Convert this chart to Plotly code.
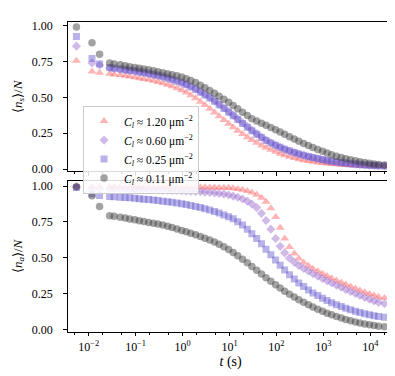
import plotly.graph_objects as go

# time points (s)
t = [0.0055, 0.0118, 0.0171, 0.028, 0.035, 0.047, 0.06, 0.075, 0.096, 0.12,
     0.15, 0.19, 0.24, 0.30, 0.38, 0.48, 0.60, 0.76, 0.96, 1.2,
     1.5, 1.9, 2.4, 3.0, 3.8, 4.8, 6.0, 7.6, 9.6, 12,
     15, 19, 24, 30, 38, 48, 60, 76, 96, 120,
     150, 190, 240, 300, 380, 480, 600, 760, 960, 1200,
     1500, 1900, 2400, 3000, 3800, 4800, 6000, 7600, 9600, 12000,
     15000, 20000]

labels = ["<i>C<sub>l</sub></i> ≈ 1.20 μm<sup>−2</sup>",
          "<i>C<sub>l</sub></i> ≈ 0.60 μm<sup>−2</sup>",
          "<i>C<sub>l</sub></i> ≈ 0.25 μm<sup>−2</sup>",
          "<i>C<sub>l</sub></i> ≈ 0.11 μm<sup>−2</sup>"]

# <n_s>/N
ns_120 = [0.755, 0.68, 0.672, 0.665, 0.66, 0.655, 0.65, 0.645, 0.64, 0.634,
          0.628, 0.622, 0.615, 0.607, 0.598, 0.588, 0.577, 0.564, 0.55, 0.533,
          0.514, 0.493, 0.47, 0.446, 0.42, 0.394, 0.368, 0.342, 0.316, 0.291,
          0.267, 0.244, 0.222, 0.202, 0.183, 0.165, 0.149, 0.134, 0.12, 0.107,
          0.096, 0.086, 0.077, 0.069, 0.062, 0.056, 0.051, 0.046, 0.042, 0.039,
          0.036, 0.033, 0.031, 0.029, 0.027, 0.025, 0.024, 0.023, 0.022, 0.021,
          0.02, 0.02]
ns_060 = [0.857, 0.74, 0.725, 0.705, 0.70, 0.696, 0.692, 0.688, 0.684, 0.679,
          0.674, 0.668, 0.662, 0.655, 0.647, 0.638, 0.628, 0.617, 0.605, 0.592,
          0.577, 0.56, 0.541, 0.521, 0.5, 0.477, 0.453, 0.428, 0.402, 0.376,
          0.35, 0.323, 0.297, 0.271, 0.247, 0.224, 0.203, 0.184, 0.167, 0.152,
          0.138, 0.126, 0.115, 0.105, 0.096, 0.087, 0.079, 0.072, 0.065, 0.059,
          0.054, 0.049, 0.045, 0.041, 0.037, 0.034, 0.031, 0.028, 0.026, 0.024,
          0.022, 0.021]
ns_025 = [0.925, 0.77, 0.733, 0.708, 0.703, 0.698, 0.693, 0.688, 0.683, 0.677,
          0.671, 0.665, 0.658, 0.65, 0.642, 0.633, 0.623, 0.612, 0.60, 0.587,
          0.572, 0.555, 0.536, 0.516, 0.495, 0.472, 0.448, 0.423, 0.397, 0.371,
          0.345, 0.318, 0.292, 0.267, 0.243, 0.221, 0.20, 0.182, 0.166, 0.152,
          0.139, 0.127, 0.116, 0.106, 0.097, 0.088, 0.08, 0.073, 0.066, 0.06,
          0.055, 0.05, 0.046, 0.042, 0.038, 0.035, 0.032, 0.029, 0.027, 0.025,
          0.023, 0.022]
ns_011 = [0.99, 0.88, 0.80, 0.74, 0.733, 0.728, 0.72, 0.714, 0.708, 0.702,
          0.697, 0.692, 0.685, 0.678, 0.671, 0.665, 0.658, 0.65, 0.641, 0.63,
          0.618, 0.603, 0.585, 0.567, 0.548, 0.528, 0.508, 0.487, 0.465, 0.443,
          0.42, 0.397, 0.373, 0.35, 0.335, 0.32, 0.305, 0.29, 0.274, 0.258,
          0.242, 0.226, 0.21, 0.194, 0.179, 0.164, 0.15, 0.137, 0.124, 0.112,
          0.10, 0.09, 0.08, 0.072, 0.065, 0.058, 0.052, 0.046, 0.041, 0.036,
          0.032, 0.028]

# <n_a>/N
na_120 = [0.998, 0.997, 0.997, 0.997, 0.997, 0.997, 0.996, 0.996, 0.996, 0.996,
          0.996, 0.995, 0.995, 0.995, 0.995, 0.995, 0.994, 0.994, 0.994, 0.993,
          0.993, 0.992, 0.992, 0.991, 0.99, 0.99, 0.989, 0.988, 0.988, 0.985,
          0.98, 0.974, 0.966, 0.955, 0.94, 0.918, 0.89, 0.845, 0.785, 0.71,
          0.635, 0.575, 0.53, 0.495, 0.467, 0.445, 0.425, 0.407, 0.39, 0.374,
          0.358, 0.343, 0.328, 0.314, 0.30, 0.286, 0.273, 0.26, 0.248, 0.237,
          0.228, 0.22]
na_060 = [0.995, 0.985, 0.982, 0.98, 0.98, 0.979, 0.979, 0.978, 0.978, 0.977,
          0.976, 0.975, 0.974, 0.973, 0.972, 0.971, 0.97, 0.969, 0.968, 0.966,
          0.964, 0.962, 0.96, 0.958, 0.955, 0.952, 0.948, 0.944, 0.938, 0.93,
          0.922, 0.91, 0.895, 0.875, 0.85, 0.81, 0.76, 0.70, 0.635, 0.58,
          0.535, 0.498, 0.47, 0.447, 0.427, 0.408, 0.39, 0.373, 0.357, 0.341,
          0.325, 0.31, 0.295, 0.28, 0.266, 0.252, 0.238, 0.225, 0.212, 0.20,
          0.19, 0.18]
na_025 = [0.99, 0.946, 0.935, 0.927, 0.925, 0.922, 0.92, 0.918, 0.915, 0.912,
          0.909, 0.906, 0.903, 0.899, 0.895, 0.891, 0.887, 0.882, 0.877, 0.871,
          0.865, 0.858, 0.85, 0.842, 0.833, 0.823, 0.812, 0.799, 0.786, 0.772,
          0.752, 0.728, 0.70, 0.668, 0.634, 0.598, 0.56, 0.522, 0.485, 0.449,
          0.415, 0.383, 0.353, 0.325, 0.30, 0.277, 0.256, 0.237, 0.219, 0.203,
          0.188, 0.174, 0.161, 0.149, 0.138, 0.128, 0.119, 0.111, 0.104, 0.097,
          0.092, 0.087]
na_011 = [0.995, 0.932, 0.858, 0.794, 0.79, 0.783, 0.777, 0.771, 0.765, 0.759,
          0.753, 0.747, 0.741, 0.735, 0.728, 0.72, 0.711, 0.701, 0.69, 0.681,
          0.672, 0.661, 0.649, 0.637, 0.624, 0.61, 0.595, 0.578, 0.559, 0.538,
          0.515, 0.491, 0.466, 0.44, 0.414, 0.388, 0.362, 0.337, 0.313, 0.29,
          0.268, 0.247, 0.227, 0.208, 0.19, 0.173, 0.157, 0.142, 0.128, 0.115,
          0.103, 0.092, 0.081, 0.071, 0.062, 0.054, 0.047, 0.04, 0.034, 0.029,
          0.024, 0.02]

xtick_vals = [0.01, 0.1, 1, 10, 100, 1000, 10000]
xtick_text = ["10<sup>−2</sup>", "10<sup>−1</sup>", "10<sup>0</sup>", "10<sup>1</sup>",
              "10<sup>2</sup>", "10<sup>3</sup>", "10<sup>4</sup>"]
ytick_vals = [0, 0.25, 0.5, 0.75, 1.0]

symbols = ["triangle-up", "diamond", "square", "circle"]
colors = ["rgba(255,90,90,0.45)", "rgba(150,105,205,0.45)",
          "rgba(95,85,205,0.45)", "rgba(60,60,60,0.48)"]
sizes = [8, 7, 7, 7.5]

fig = go.Figure()
top = [ns_120, ns_060, ns_025, ns_011]
bot = [na_120, na_060, na_025, na_011]
for i in range(4):
    fig.add_trace(go.Scatter(x=t, y=top[i], mode="markers", name=labels[i],
                             marker=dict(symbol=symbols[i], color=colors[i], size=sizes[i], line=dict(width=0)),
                             xaxis="x", yaxis="y"))
for i in range(4):
    fig.add_trace(go.Scatter(x=t, y=bot[i], mode="markers", name=labels[i], showlegend=False,
                             marker=dict(symbol=symbols[i], color=colors[i], size=sizes[i], line=dict(width=0)),
                             xaxis="x2", yaxis="y2"))

font = dict(family="Liberation Serif", size=12, color="black")
xcommon = dict(type="log", range=[-2.447, 4.494], showline=True, linecolor="black", linewidth=1,
               mirror=True, ticks="outside", ticklen=3.5, tickwidth=0.8, tickcolor="black",
               tickvals=xtick_vals, ticktext=xtick_text, showgrid=False, zeroline=False,
               minor=dict(ticks="outside", ticklen=2, tickwidth=0.6, tickcolor="black", showgrid=False))
ycommon = dict(showline=True, linecolor="black", linewidth=1, mirror=True, ticks="outside",
               ticklen=3.5, tickwidth=0.8, tickcolor="black", tickvals=ytick_vals,
               tickformat=".2f", showgrid=False, zeroline=False, ticklabelstandoff=8)

fig.update_layout(
    width=395, height=376, margin=dict(l=0, r=0, t=0, b=0),
    plot_bgcolor="white", paper_bgcolor="white", font=font,
    xaxis=dict(xcommon, domain=[0.151, 0.976], anchor="y", showticklabels=False),
    xaxis2=dict(xcommon, domain=[0.151, 0.976], anchor="y2",
                title=dict(text="<i>t</i> (s)", standoff=3)),
    yaxis=dict(ycommon, domain=[0.5665, 0.9715], range=[-0.014, 1.022], anchor="x",
               title=dict(text="⟨<i>n<sub>s</sub></i>⟩/<i>N</i>", standoff=6, font=dict(size=13))),
    yaxis2=dict(ycommon, domain=[0.129, 0.539], range=[-0.014, 1.034], anchor="x2",
                title=dict(text="⟨<i>n<sub>a</sub></i>⟩/<i>N</i>", standoff=6, font=dict(size=13))),
    legend=dict(x=0.19, y=0.745, xanchor="left", yanchor="top",
                bgcolor="rgba(255,255,255,0.85)", bordercolor="#cccccc", borderwidth=1,
                font=dict(size=11.5), tracegroupgap=0, itemwidth=30),
    showlegend=True,
)

fig.write_html("out.html")
